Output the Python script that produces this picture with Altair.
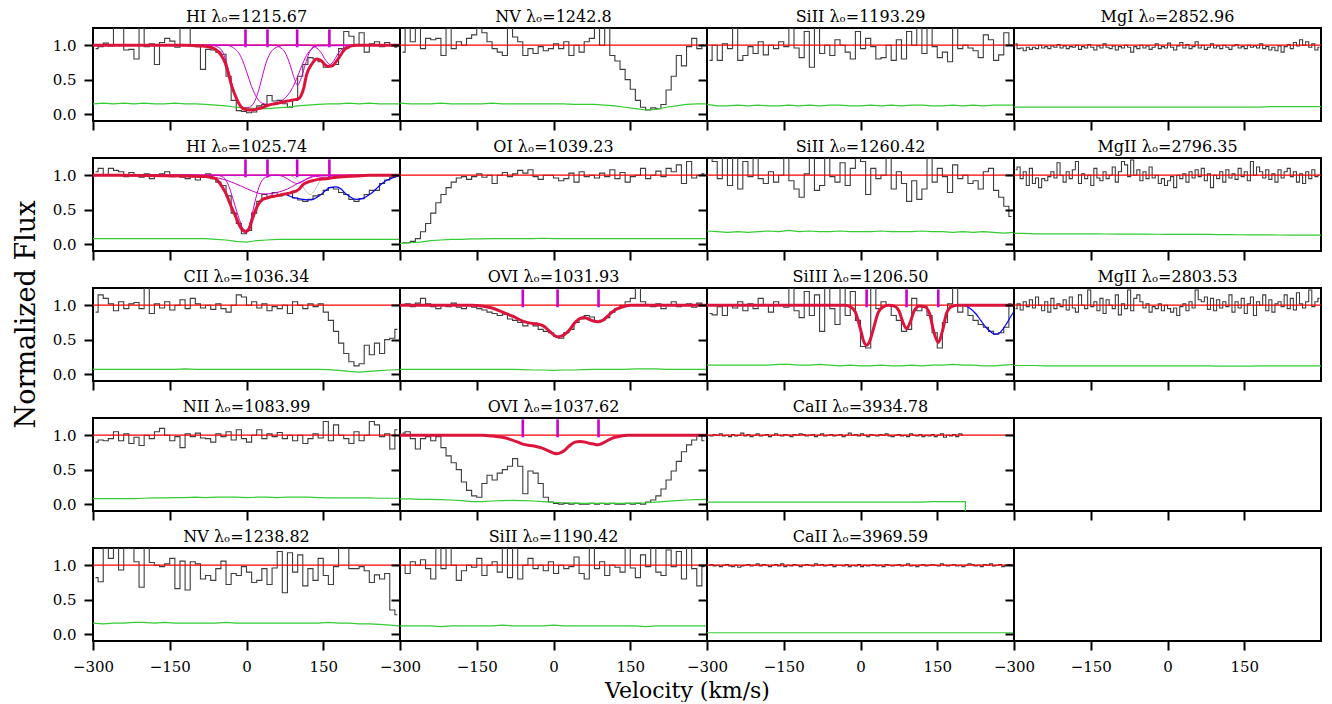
import altair as alt
import pandas as pd

# ---------------- grids ----------------
V_COS0, DV_COS = -295, 10      # COS-like bins (centres)
V_HR0, DV_HR = -297, 6         # high-resolution bins (centres)
ERR_V0, ERR_DV = -300, 20      # error-spectrum samples

# ---------------- flux spectra ----------------
HI1215_FLUX = [0.95, 0.98, 1.03, 0.99, 1.25, 1.25, 0.93, 0.94, 0.80, 1.25,
               0.98, 1.02, 0.72, 1.04, 1.10, 1.06, 0.97, 1.25, 1.25, 1.00,
               0.98, 0.65, 0.94, 0.93, 0.90, 0.87, 0.55, 0.20, 0.05, 0.04,
               0.02, 0.03, 0.12, 0.14, 0.27, 0.19, 0.20, 0.15, 0.10, 0.20,
               0.55, 0.72, 0.82, 0.80, 0.76, 0.68, 0.70, 0.72, 0.95, 1.20,
               1.13, 1.00, 1.18, 0.90, 1.02, 1.05, 0.98, 1.04, 1.00, 0.97]
NV1242_FLUX = [0.90, 1.25, 1.05, 1.25, 0.95, 1.10, 1.08, 1.10, 0.85, 1.25,
               0.95, 1.05, 1.00, 1.10, 1.15, 1.25, 1.18, 1.05, 0.95, 0.90,
               0.85, 1.25, 1.12, 1.05, 0.85, 0.95, 0.88, 0.98, 0.92, 0.95,
               1.02, 0.95, 1.05, 0.85, 1.00, 0.90, 1.05, 1.10, 1.25, 1.00,
               1.25, 0.85, 0.77, 0.65, 0.50, 0.36, 0.20, 0.10, 0.06, 0.09,
               0.08, 0.14, 0.35, 0.55, 0.85, 0.70, 0.98, 1.10, 0.95, 1.00]
SIII1193_FLUX = [0.78, 1.00, 0.78, 1.02, 0.95, 1.25, 0.78, 0.85, 0.98, 0.88,
                 1.05, 0.86, 1.00, 0.95, 1.05, 0.98, 1.25, 0.96, 0.82, 1.20,
                 0.68, 1.25, 0.88, 1.00, 0.85, 1.08, 1.00, 0.90, 0.80, 1.20,
                 0.95, 1.10, 0.98, 0.80, 0.82, 1.00, 0.78, 1.08, 0.80, 1.20,
                 1.00, 1.25, 0.88, 1.25, 0.98, 0.82, 0.90, 0.76, 1.25, 0.95,
                 1.00, 0.96, 0.92, 0.82, 1.15, 1.08, 0.78, 0.86, 1.18, 1.00]
MGI2852_FLUX = [1.02, 0.95, 0.96, 0.92, 0.97, 0.94, 0.97, 0.95, 1.00, 0.96,
                0.98, 0.95, 0.99, 0.97, 1.01, 0.96, 0.99, 0.95, 0.98, 0.97,
                1.00, 0.94, 0.98, 0.96, 1.01, 0.97, 0.93, 0.99, 0.96, 1.02,
                0.97, 0.95, 0.99, 0.93, 0.98, 0.96, 1.00, 0.97, 0.90, 0.98,
                0.95, 1.00, 0.96, 0.99, 0.94, 0.97, 1.02, 0.95, 0.98, 0.96,
                1.03, 0.97, 0.93, 0.99, 1.04, 0.96, 1.01, 0.95, 0.98, 1.05,
                0.96, 1.00, 0.94, 0.97, 1.02, 0.96, 0.99, 0.95, 1.00, 0.97,
                0.94, 0.99, 1.01, 0.96, 0.98, 0.95, 1.00, 0.97, 0.99, 0.96,
                1.02, 0.95, 0.98, 0.93, 0.97, 0.92, 0.99, 0.90, 0.98, 1.01,
                0.95, 1.04, 0.99, 1.08, 1.00, 1.05, 0.97, 1.02, 0.93, 0.97]
HI1025_FLUX = [1.05, 1.10, 1.00, 1.10, 1.07, 1.05, 0.98, 1.04, 1.00, 0.97,
               1.02, 0.95, 1.00, 1.02, 1.05, 0.98, 1.00, 0.97, 0.95, 1.00,
               0.93, 0.97, 1.02, 0.95, 0.90, 0.85, 0.70, 0.45, 0.30, 0.15,
               0.20, 0.45, 0.62, 0.72, 0.68, 0.75, 0.70, 0.72, 0.75, 0.67,
               0.64, 0.62, 0.65, 0.70, 0.72, 0.78, 0.82, 0.80, 0.75, 0.72,
               0.65, 0.62, 0.66, 0.72, 0.78, 0.78, 0.88, 0.93, 0.97, 1.00]
OI1039_FLUX = [0.02, 0.02, 0.04, 0.08, 0.18, 0.30, 0.45, 0.60, 0.72, 0.82,
               0.90, 0.96, 0.98, 0.94, 0.98, 1.02, 0.97, 1.00, 0.88, 1.00,
               1.04, 0.98, 1.02, 1.07, 1.03, 1.08, 0.98, 0.94, 1.00, 1.00,
               0.96, 0.92, 0.95, 1.03, 0.90, 1.05, 0.98, 1.00, 0.96, 1.03,
               0.98, 1.08, 0.95, 1.04, 0.90, 0.98, 1.00, 1.10, 0.95, 1.00,
               1.06, 0.98, 1.10, 1.05, 1.15, 0.88, 1.20, 0.96, 1.00, 1.02]
SIII1260_FLUX = [1.25, 1.20, 0.95, 1.25, 0.85, 1.25, 0.80, 1.20, 0.98, 1.25,
                 0.95, 0.88, 1.05, 0.90, 1.00, 1.25, 0.92, 0.80, 0.68, 1.02,
                 1.25, 0.78, 0.85, 1.25, 0.98, 0.90, 1.18, 0.85, 1.10, 1.25,
                 1.20, 0.72, 1.10, 0.95, 1.00, 1.25, 0.80, 1.05, 0.88, 0.62,
                 0.92, 0.65, 0.80, 1.25, 0.90, 1.10, 0.98, 0.75, 1.15, 0.95,
                 1.00, 0.88, 0.92, 0.80, 1.05, 1.10, 0.78, 0.68, 0.55, 0.40]
MGII2796_FLUX = [1.08, 1.12, 0.95, 1.05, 0.85, 1.10, 0.88, 0.96, 0.82, 0.95,
                 0.92, 0.98, 1.05, 0.96, 1.18, 1.00, 0.90, 1.05, 0.95, 1.08,
                 1.20, 0.88, 1.02, 0.95, 1.00, 0.85, 1.10, 0.96, 0.92, 1.05,
                 0.95, 1.00, 1.12, 0.90, 1.05, 1.20, 1.15, 0.98, 1.22, 1.00,
                 1.08, 0.92, 1.05, 0.95, 1.12, 0.96, 1.00, 0.88, 0.95, 0.85,
                 0.92, 0.98, 0.82, 1.00, 0.95, 1.02, 0.90, 1.05, 0.96, 1.08,
                 0.98, 1.10, 0.92, 1.02, 0.82, 1.00, 0.95, 1.05, 0.90, 1.08,
                 0.96, 1.02, 0.94, 1.10, 0.98, 1.05, 0.92, 1.20, 1.00, 1.12,
                 1.05, 0.96, 1.08, 0.94, 1.02, 0.90, 1.08, 0.96, 1.05, 1.10,
                 0.98, 1.05, 0.90, 1.02, 0.88, 1.05, 0.95, 1.08, 0.98, 1.00]
CII1036_FLUX = [0.90, 1.15, 1.10, 1.02, 0.92, 1.05, 0.95, 1.02, 1.04, 0.95,
                1.25, 0.88, 1.02, 0.96, 1.05, 0.93, 1.00, 1.08, 0.95, 1.10,
                1.02, 0.96, 1.00, 0.94, 1.02, 0.95, 0.90, 1.00, 1.15, 1.12,
                1.00, 1.05, 0.96, 1.02, 0.92, 0.98, 0.95, 1.00, 0.88, 1.05,
                1.00, 0.95, 1.02, 0.98, 1.02, 0.90, 0.78, 0.62, 0.45, 0.30,
                0.18, 0.12, 0.15, 0.42, 0.28, 0.45, 0.30, 0.50, 0.52, 0.65]
OVI1031_FLUX = [1.00, 1.02, 0.98, 1.03, 1.10, 1.02, 0.98, 0.95, 1.00, 0.98,
                1.03, 0.97, 0.95, 1.00, 0.97, 0.95, 0.93, 0.90, 0.88, 0.85,
                0.87, 0.80, 0.78, 0.75, 0.70, 0.75, 0.70, 0.65, 0.62, 0.60,
                0.55, 0.52, 0.60, 0.65, 0.75, 0.80, 0.85, 0.83, 0.76, 0.78,
                0.82, 0.90, 0.95, 1.00, 1.05, 1.10, 1.25, 1.05, 1.00, 0.98,
                1.02, 0.95, 1.00, 1.05, 0.98, 1.00, 1.02, 0.97, 1.03, 1.00]
SIIII1206_FLUX = [0.88, 0.86, 0.98, 0.85, 1.00, 0.96, 1.05, 0.92, 1.02, 0.95,
                  1.10, 1.00, 0.90, 1.05, 1.00, 0.97, 1.25, 0.92, 0.82, 1.20,
                  0.85, 1.15, 0.62, 1.25, 0.95, 0.72, 1.25, 0.85, 1.20, 0.78,
                  0.40, 0.38, 1.25, 0.95, 1.05, 1.00, 0.85, 0.78, 0.62, 0.65,
                  1.10, 0.92, 0.98, 0.85, 0.60, 0.38, 0.75, 1.02, 1.25, 0.90,
                  1.00, 0.85, 0.78, 0.72, 0.68, 0.62, 0.58, 0.60, 0.68, 1.02]
MGII2803_FLUX = [0.95, 1.02, 0.93, 1.05, 0.98, 1.08, 0.96, 1.12, 1.00, 0.92,
                 1.05, 0.90, 1.10, 0.95, 1.02, 0.98, 1.08, 0.93, 1.12, 0.96,
                 0.90, 1.15, 1.00, 0.95, 1.22, 0.98, 1.05, 0.92, 1.10, 0.88,
                 1.08, 1.00, 0.95, 1.15, 0.86, 1.02, 0.95, 1.22, 0.92, 1.10,
                 1.15, 1.05, 0.96, 1.02, 0.90, 0.98, 0.95, 1.02, 0.92, 1.00,
                 0.95, 0.90, 0.96, 0.85, 0.98, 1.02, 0.92, 1.05, 0.96, 1.22,
                 1.08, 1.05, 1.12, 0.94, 1.10, 0.92, 1.08, 0.96, 1.05, 0.98,
                 1.15, 0.90, 1.05, 0.96, 1.10, 0.88, 1.02, 1.12, 0.85, 1.05,
                 1.00, 1.15, 0.92, 1.08, 0.90, 1.02, 1.05, 0.98, 1.15, 0.95,
                 1.10, 0.93, 1.18, 1.02, 0.96, 1.05, 1.22, 0.98, 1.05, 1.10]
NII1083_FLUX = [0.90, 0.93, 0.92, 0.95, 1.05, 0.92, 1.02, 0.88, 0.97, 0.85,
                1.00, 0.95, 1.05, 1.10, 1.00, 0.92, 0.98, 0.82, 1.02, 0.98,
                1.03, 0.96, 0.95, 0.90, 1.02, 0.98, 1.05, 0.93, 1.08, 0.95,
                0.90, 1.00, 1.08, 0.95, 1.02, 0.98, 1.04, 0.95, 1.00, 0.92,
                1.00, 0.88, 0.95, 1.02, 0.96, 1.20, 0.92, 1.15, 1.00, 0.95,
                0.88, 1.05, 0.92, 1.00, 1.20, 1.15, 0.98, 1.02, 0.80, 1.08]
OVI1037_FLUX = [1.03, 1.05, 0.95, 0.80, 0.95, 0.98, 0.92, 0.98, 0.82, 0.70,
                0.60, 0.50, 0.32, 0.20, 0.12, 0.10, 0.30, 0.42, 0.35, 0.45,
                0.50, 0.55, 0.66, 0.55, 0.15, 0.48, 0.45, 0.30, 0.10, 0.03,
                0.01, 0.00, 0.01, 0.00, 0.01, 0.00, 0.00, 0.01, 0.00, 0.01,
                0.00, 0.01, 0.00, 0.00, 0.01, 0.00, 0.01, 0.00, 0.03, 0.06,
                0.12, 0.22, 0.35, 0.48, 0.62, 0.76, 0.86, 0.93, 1.00, 0.92]
CAII3934_FLUX = [1.00, 0.99, 1.01, 1.00, 1.02, 0.99, 1.00, 0.98, 1.01, 0.99,
                 1.00, 1.03, 0.99, 1.01, 0.98, 1.00, 1.02, 0.99, 1.00, 1.01,
                 0.98, 1.00, 1.02, 1.00, 0.99, 1.01, 1.00, 0.98, 1.01, 1.00,
                 1.02, 1.01, 0.99, 1.00, 1.01, 0.98, 1.00, 1.02, 0.99, 1.00,
                 1.01, 0.99, 1.00, 1.01, 0.98, 1.00, 1.03, 1.00, 1.01, 0.99,
                 1.02, 1.00, 0.98, 1.01, 1.00, 0.99, 1.01, 1.00, 1.02, 0.99,
                 0.98, 1.00, 1.01, 0.99, 1.00, 0.98, 1.02, 1.00, 0.99, 1.01,
                 0.98, 1.00, 0.99, 1.01, 0.98, 1.00, 1.02, 0.97, 1.00, 0.99,
                 1.01, 0.98, 1.02, 1.00]
NV1238_FLUX = [0.82, 0.76, 1.25, 1.10, 1.25, 0.93, 1.25, 1.25, 1.05, 0.68,
               1.25, 1.04, 1.00, 0.98, 1.02, 1.10, 0.66, 1.06, 0.64, 1.05,
               1.02, 0.80, 0.85, 0.78, 0.95, 1.06, 0.72, 0.88, 0.85, 0.98,
               0.90, 0.75, 0.78, 0.95, 0.72, 0.96, 1.20, 0.60, 1.18, 0.90,
               1.15, 0.70, 0.95, 0.78, 1.10, 0.85, 0.72, 0.98, 1.25, 1.25,
               0.95, 0.95, 0.98, 0.92, 0.75, 0.86, 0.80, 0.88, 0.35, 0.28]
SIII1190_FLUX = [1.00, 0.88, 1.05, 1.00, 1.08, 0.95, 0.80, 1.25, 0.95, 1.25,
                 1.00, 0.78, 0.92, 1.00, 0.97, 1.10, 0.85, 1.00, 1.05, 0.90,
                 1.25, 0.82, 1.25, 0.80, 1.00, 1.10, 0.95, 1.00, 0.92, 1.05,
                 0.88, 1.00, 0.95, 0.98, 1.12, 0.88, 0.80, 1.25, 0.95, 1.05,
                 0.85, 1.00, 0.97, 0.90, 1.25, 0.96, 0.82, 1.15, 0.98, 1.25,
                 0.90, 0.85, 1.22, 0.98, 1.20, 0.80, 1.25, 0.95, 0.70, 0.98]
CAII3969_FLUX = [1.00, 1.01, 0.99, 1.00, 0.98, 1.00, 1.01, 0.99, 0.98, 1.00,
                 0.97, 0.99, 1.00, 1.01, 0.99, 1.00, 1.02, 0.99, 1.01, 1.00,
                 0.98, 1.00, 1.01, 0.99, 1.02, 0.98, 1.00, 0.99, 1.01, 1.00,
                 0.98, 1.00, 1.01, 1.00, 0.99, 1.02, 1.00, 1.01, 0.99, 1.00,
                 1.01, 0.98, 1.00, 1.00, 0.99, 1.01, 0.98, 1.00, 0.99, 1.01,
                 0.98, 1.00, 0.99, 1.00, 1.01, 0.99, 1.00, 0.98, 1.01, 1.00,
                 0.99, 1.00, 1.01, 0.99, 1.00, 1.02, 0.99, 1.00, 0.98, 1.00,
                 1.01, 0.99, 1.00, 1.01, 1.00, 0.99, 1.02, 1.00, 0.99, 1.00,
                 1.01, 0.99, 1.00, 0.98, 1.00, 1.02, 1.01, 0.99, 1.00, 0.98,
                 1.01, 1.00, 1.02, 0.99, 1.00, 1.01, 0.98, 1.00, 1.01, 1.00]

# ---------------- error spectra (every 20 km/s from -300) ----------------
HI1215_ERR = [0.15, 0.16, 0.15, 0.16, 0.15, 0.16, 0.15, 0.15, 0.16, 0.15, 0.15, 0.14, 0.13, 0.12, 0.10, 0.09,
              0.08, 0.08, 0.09, 0.10, 0.12, 0.13, 0.14, 0.15, 0.15, 0.16, 0.15, 0.16, 0.15, 0.15, 0.15]
NV1242_ERR = [0.16, 0.15, 0.15, 0.15, 0.16, 0.15, 0.15, 0.15, 0.15, 0.16, 0.15, 0.15, 0.15, 0.15, 0.15, 0.15,
              0.15, 0.14, 0.14, 0.14, 0.13, 0.12, 0.10, 0.08, 0.06, 0.07, 0.10, 0.12, 0.14, 0.15, 0.15]
SIII1193_ERR = [0.14, 0.12, 0.12, 0.13, 0.12, 0.13, 0.12, 0.12, 0.13, 0.12, 0.13, 0.12, 0.13, 0.13, 0.12, 0.12,
                0.13, 0.12, 0.13, 0.12, 0.13, 0.13, 0.12, 0.12, 0.13, 0.12, 0.13, 0.12, 0.13, 0.13, 0.13]
MGI2852_ERR = [0.10, 0.10, 0.10, 0.10, 0.10, 0.10, 0.10, 0.10, 0.10, 0.10, 0.10, 0.10, 0.10, 0.10, 0.10, 0.10,
               0.10, 0.10, 0.10, 0.10, 0.10, 0.10, 0.10, 0.10, 0.10, 0.11, 0.11, 0.11, 0.11, 0.11, 0.11]
HI1025_ERR = [0.08, 0.08, 0.08, 0.08, 0.08, 0.08, 0.08, 0.08, 0.08, 0.08, 0.08, 0.08, 0.07, 0.06, 0.04, 0.03,
              0.05, 0.06, 0.07, 0.07, 0.07, 0.07, 0.07, 0.07, 0.07, 0.07, 0.07, 0.07, 0.07, 0.07, 0.07]
OI1039_ERR = [0.01, 0.02, 0.03, 0.05, 0.06, 0.07, 0.07, 0.075, 0.075, 0.08, 0.08, 0.08, 0.08, 0.08, 0.085, 0.08,
              0.08, 0.08, 0.08, 0.08, 0.08, 0.08, 0.08, 0.08, 0.08, 0.08, 0.08, 0.08, 0.08, 0.08, 0.08]
SIII1260_ERR = [0.19, 0.18, 0.17, 0.18, 0.17, 0.18, 0.19, 0.18, 0.20, 0.18, 0.19, 0.18, 0.18, 0.19, 0.18, 0.18,
                0.18, 0.19, 0.18, 0.18, 0.18, 0.19, 0.18, 0.18, 0.17, 0.18, 0.17, 0.18, 0.17, 0.16, 0.17]
MGII2796_ERR = [0.155, 0.155, 0.15, 0.15, 0.15, 0.15, 0.15, 0.15, 0.148, 0.147, 0.146, 0.145, 0.145, 0.144, 0.143,
                0.142, 0.141, 0.14, 0.14, 0.14, 0.138, 0.137, 0.136, 0.135, 0.134, 0.133, 0.132, 0.131, 0.13,
                0.13, 0.13]
CII1036_ERR = [0.07, 0.07, 0.07, 0.07, 0.07, 0.07, 0.07, 0.07, 0.07, 0.075, 0.07, 0.07, 0.07, 0.07, 0.07, 0.07,
               0.07, 0.07, 0.07, 0.07, 0.07, 0.07, 0.07, 0.065, 0.055, 0.04, 0.03, 0.04, 0.05, 0.06, 0.065]
OVI1031_ERR = [0.07, 0.07, 0.07, 0.07, 0.07, 0.07, 0.07, 0.07, 0.07, 0.07, 0.07, 0.07, 0.065, 0.06, 0.06, 0.055,
               0.06, 0.06, 0.065, 0.07, 0.07, 0.07, 0.07, 0.075, 0.075, 0.075, 0.07, 0.07, 0.07, 0.07, 0.07]
SIIII1206_ERR = [0.13, 0.13, 0.13, 0.13, 0.13, 0.13, 0.13, 0.14, 0.14, 0.13, 0.13, 0.14, 0.13, 0.12, 0.13, 0.12,
                 0.12, 0.13, 0.12, 0.12, 0.13, 0.12, 0.13, 0.13, 0.14, 0.13, 0.13, 0.12, 0.12, 0.13, 0.14]
MGII2803_ERR = [0.125, 0.125, 0.125, 0.12, 0.12, 0.12, 0.12, 0.12, 0.12, 0.12, 0.12, 0.12, 0.12, 0.12, 0.12,
                0.12, 0.12, 0.12, 0.12, 0.12, 0.115, 0.115, 0.115, 0.115, 0.12, 0.12, 0.12, 0.12, 0.12, 0.12, 0.12]
NII1083_ERR = [0.08, 0.08, 0.08, 0.08, 0.08, 0.085, 0.09, 0.09, 0.095, 0.095, 0.10, 0.095, 0.10, 0.10, 0.10,
               0.095, 0.10, 0.10, 0.095, 0.10, 0.10, 0.10, 0.095, 0.09, 0.09, 0.09, 0.09, 0.09, 0.085, 0.085, 0.085]
OVI1037_ERR = [0.075, 0.075, 0.07, 0.07, 0.065, 0.06, 0.05, 0.035, 0.035, 0.045, 0.05, 0.055, 0.05, 0.045, 0.035,
               0.025, 0.02, 0.015, 0.01, 0.01, 0.01, 0.01, 0.01, 0.015, 0.02, 0.03, 0.04, 0.05, 0.06, 0.065, 0.07]
CAII3934_ERR = [0.03, 0.03, 0.03, 0.03, 0.03, 0.03, 0.03, 0.03, 0.03, 0.03, 0.03, 0.03, 0.03, 0.03, 0.03, 0.03,
                0.03, 0.03, 0.03, 0.03, 0.03, 0.03, 0.035, 0.035, 0.035, 0.035]
NV1238_ERR = [0.16, 0.15, 0.16, 0.16, 0.17, 0.17, 0.16, 0.17, 0.16, 0.16, 0.16, 0.16, 0.16, 0.17, 0.16, 0.16,
              0.16, 0.16, 0.16, 0.16, 0.16, 0.16, 0.16, 0.17, 0.16, 0.16, 0.15, 0.15, 0.14, 0.13, 0.12]
SIII1190_ERR = [0.12, 0.12, 0.12, 0.12, 0.11, 0.12, 0.12, 0.12, 0.12, 0.12, 0.13, 0.12, 0.12, 0.12, 0.12, 0.13,
                0.12, 0.12, 0.12, 0.12, 0.12, 0.12, 0.12, 0.12, 0.11, 0.12, 0.12, 0.12, 0.12, 0.12, 0.12]
CAII3969_ERR = [0.02, 0.02, 0.02, 0.02, 0.02, 0.02, 0.02, 0.02, 0.02, 0.02, 0.02, 0.02, 0.02, 0.02, 0.02, 0.02,
                0.02, 0.02, 0.02, 0.02, 0.02, 0.02, 0.02, 0.02, 0.02, 0.02, 0.02, 0.02, 0.02, 0.02, 0.02]

# ---------------- model fits (velocity, normalized flux) ----------------
HI1215_FIT_V = [-300, -120, -90, -70, -61, -50, -42, -35, -29, -22, -16, -10, -3, 5, 12, 23, 33, 43, 55, 69, 80,
                88, 95, 101, 106, 112, 117, 122, 127, 132, 137, 142, 147, 153, 160, 167, 173, 179, 186, 192, 199,
                205, 215, 230, 300]
HI1215_FIT_F = [1, 1, 0.99, 0.97, 0.94, 0.86, 0.75, 0.58, 0.41, 0.27, 0.17, 0.10, 0.07, 0.06, 0.06, 0.08, 0.10,
                0.13, 0.15, 0.17, 0.19, 0.20, 0.21, 0.22, 0.26, 0.38, 0.56, 0.66, 0.72, 0.77, 0.80, 0.79, 0.77,
                0.72, 0.69, 0.70, 0.74, 0.80, 0.88, 0.94, 0.97, 0.99, 1, 1, 1]
HI1025_FIT_V = [-300, -200, -120, -80, -60, -53, -45, -38, -33, -26, -20, -13, -7, -1, 5, 9, 14, 19, 25, 32, 40,
                50, 58, 70, 84, 92, 97, 103, 110, 120, 129, 140, 155, 175, 194, 215, 240, 300]
HI1025_FIT_F = [1, 0.995, 0.99, 0.98, 0.95, 0.89, 0.80, 0.70, 0.60, 0.48, 0.38, 0.26, 0.20, 0.18, 0.22, 0.31,
                0.42, 0.52, 0.60, 0.65, 0.67, 0.69, 0.70, 0.72, 0.74, 0.76, 0.77, 0.80, 0.86, 0.90, 0.92, 0.94,
                0.95, 0.97, 0.98, 0.99, 1, 1]
OVI1031_FIT_V = [-300, -160, -140, -120, -100, -80, -60, -45, -33, -20, -6, 2, 8, 15, 22, 30, 40, 52, 60, 68, 78,
                 88, 98, 110, 122, 137, 150, 300]
OVI1031_FIT_F = [1, 1, 0.99, 0.96, 0.90, 0.84, 0.77, 0.74, 0.73, 0.70, 0.61, 0.56, 0.54, 0.55, 0.58, 0.63, 0.73,
                 0.81, 0.82, 0.80, 0.77, 0.76, 0.79, 0.87, 0.94, 0.98, 1, 1]
OVI1037_FIT_V = [-300, -140, -120, -100, -85, -70, -60, -45, -36, -25, -12, 0, 6, 12, 20, 30, 42, 52, 62, 72, 80,
                 86, 92, 100, 110, 120, 132, 146, 300]
OVI1037_FIT_F = [1, 1, 0.99, 0.97, 0.94, 0.90, 0.87, 0.85, 0.84, 0.82, 0.78, 0.74, 0.73, 0.74, 0.77, 0.84, 0.90,
                 0.91, 0.90, 0.88, 0.87, 0.86, 0.87, 0.90, 0.94, 0.97, 0.99, 1, 1]
SIIII1206_FIT_V = [-300, -30, -20, -10, 0, 6, 12, 18, 25, 35, 45, 55, 65, 75, 83, 90, 97, 105, 115, 125, 135,
                   143, 152, 160, 168, 178, 190, 300]
SIIII1206_FIT_F = [1, 1, 0.98, 0.90, 0.65, 0.48, 0.42, 0.48, 0.65, 0.90, 0.98, 1, 0.99, 0.92, 0.75, 0.66, 0.75,
                   0.92, 0.99, 0.98, 0.88, 0.62, 0.46, 0.62, 0.88, 0.98, 1, 1]

# ---------------- individual components ----------------
HI1215_COMP_V = [
    [-300, -70, -55, -45, -38, -29, -20, -12, -3, 6, 14, 22, 30, 38, 46, 54, 62, 75, 300],
    [-300, -40, -25, -10, 0, 10, 20, 30, 43, 55, 70, 85, 95, 100, 108, 115, 125, 140, 300],
    [-300, 55, 65, 75, 85, 92, 100, 108, 115, 122, 130, 140, 300],
    [-300, 120, 135, 145, 155, 163, 171, 181, 192, 205, 300],
]
HI1215_COMP_F = [
    [1, 1, 0.97, 0.88, 0.72, 0.45, 0.22, 0.12, 0.09, 0.10, 0.16, 0.30, 0.52, 0.74, 0.88, 0.95, 0.98, 1, 1],
    [1, 1, 0.96, 0.82, 0.62, 0.40, 0.24, 0.16, 0.14, 0.15, 0.20, 0.32, 0.46, 0.55, 0.70, 0.82, 0.93, 0.99, 1],
    [1, 1, 0.97, 0.90, 0.72, 0.55, 0.42, 0.55, 0.72, 0.88, 0.97, 1, 1],
    [1, 1, 0.97, 0.90, 0.78, 0.72, 0.78, 0.90, 0.97, 1, 1],
]
HI1025_COMP_V = [
    [-300, -60, -45, -35, -25, -15, -8, -2, 4, 10, 16, 24, 32, 42, 55, 300],
    [-300, -100, -70, -40, -10, 15, 30, 43, 60, 80, 100, 120, 140, 300],
    [-300, 60, 75, 88, 99, 110, 123, 140, 300],
    [-300, 125, 145, 162, 180, 200, 300],
]
HI1025_COMP_F = [
    [1, 1, 0.97, 0.85, 0.62, 0.38, 0.24, 0.20, 0.24, 0.40, 0.60, 0.82, 0.94, 0.98, 1, 1],
    [1, 1, 0.98, 0.93, 0.84, 0.76, 0.73, 0.73, 0.75, 0.80, 0.88, 0.95, 0.99, 1],
    [1, 1, 0.97, 0.91, 0.88, 0.91, 0.97, 1, 1],
    [1, 1, 0.97, 0.95, 0.97, 1, 1],
]
HI1025_GRAY_V = [-300, 80, 95, 108, 118, 125, 133, 142, 155, 300]
HI1025_GRAY_F = [1, 1, 0.96, 0.86, 0.75, 0.72, 0.78, 0.90, 0.99, 1]

# ---------------- blended / other-line models (blue) ----------------
HI1025_BLUE_V = [74, 90, 110, 123, 142, 155, 162, 175, 185, 194, 204, 214, 226, 236, 246, 256, 265, 275, 285,
                 298, 310]
HI1025_BLUE_F = [0.73, 0.68, 0.65, 0.64, 0.70, 0.78, 0.82, 0.83, 0.80, 0.73, 0.68, 0.65, 0.66, 0.70, 0.75, 0.82,
                 0.88, 0.93, 0.96, 0.99, 1.0]
SIIII1206_BLUE_V = [195, 205, 215, 225, 235, 245, 255, 262, 270, 278, 286, 294, 302, 310]
SIIII1206_BLUE_F = [1.0, 0.99, 0.95, 0.88, 0.78, 0.68, 0.61, 0.58, 0.59, 0.65, 0.74, 0.84, 0.93, 1.0]

# ---------------- component velocity markers ----------------
HI_TICKS = [-2, 41, 99, 162]
OVI_TICKS = [-60, 8, 88]
SIIII_TICKS = [12, 90, 152]

# ---------------- panel table (row-major, 5 x 4) ----------------
PANELS = [
    dict(title="HI λₒ=1215.67", flux=HI1215_FLUX, hr=False, err=HI1215_ERR,
         fit=(HI1215_FIT_V, HI1215_FIT_F), comps=(HI1215_COMP_V, HI1215_COMP_F), ticks=HI_TICKS),
    dict(title="NV λₒ=1242.8", flux=NV1242_FLUX, hr=False, err=NV1242_ERR),
    dict(title="SiII λₒ=1193.29", flux=SIII1193_FLUX, hr=False, err=SIII1193_ERR),
    dict(title="MgI λₒ=2852.96", flux=MGI2852_FLUX, hr=True, err=MGI2852_ERR),

    dict(title="HI λₒ=1025.74", flux=HI1025_FLUX, hr=False, err=HI1025_ERR,
         fit=(HI1025_FIT_V, HI1025_FIT_F), comps=(HI1025_COMP_V, HI1025_COMP_F),
         gray=(HI1025_GRAY_V, HI1025_GRAY_F), blue=(HI1025_BLUE_V, HI1025_BLUE_F), ticks=HI_TICKS),
    dict(title="OI λₒ=1039.23", flux=OI1039_FLUX, hr=False, err=OI1039_ERR),
    dict(title="SiII λₒ=1260.42", flux=SIII1260_FLUX, hr=False, err=SIII1260_ERR),
    dict(title="MgII λₒ=2796.35", flux=MGII2796_FLUX, hr=True, err=MGII2796_ERR),

    dict(title="CII λₒ=1036.34", flux=CII1036_FLUX, hr=False, err=CII1036_ERR),
    dict(title="OVI λₒ=1031.93", flux=OVI1031_FLUX, hr=False, err=OVI1031_ERR,
         fit=(OVI1031_FIT_V, OVI1031_FIT_F), ticks=OVI_TICKS),
    dict(title="SiIII λₒ=1206.50", flux=SIIII1206_FLUX, hr=False, err=SIIII1206_ERR,
         fit=(SIIII1206_FIT_V, SIIII1206_FIT_F), blue=(SIIII1206_BLUE_V, SIIII1206_BLUE_F), ticks=SIIII_TICKS),
    dict(title="MgII λₒ=2803.53", flux=MGII2803_FLUX, hr=True, err=MGII2803_ERR),

    dict(title="NII λₒ=1083.99", flux=NII1083_FLUX, hr=False, err=NII1083_ERR),
    dict(title="OVI λₒ=1037.62", flux=OVI1037_FLUX, hr=False, err=OVI1037_ERR,
         fit=(OVI1037_FIT_V, OVI1037_FIT_F), ticks=OVI_TICKS),
    dict(title="CaII λₒ=3934.78", flux=CAII3934_FLUX, hr=True, err=CAII3934_ERR, err_drop=True),
    None,

    dict(title="NV λₒ=1238.82", flux=NV1238_FLUX, hr=False, err=NV1238_ERR),
    dict(title="SiII λₒ=1190.42", flux=SIII1190_FLUX, hr=False, err=SIII1190_ERR),
    dict(title="CaII λₒ=3969.59", flux=CAII3969_FLUX, hr=True, err=CAII3969_ERR),
    None,
]

# ---------------- styling ----------------
FONT = "DejaVu Serif"
W, H = 307, 93
XDOM, YDOM = [-300, 300], [-0.1, 1.25]
C_FLUX, C_CONT, C_ERR = "#3d3d3d", "#ff0000", "#33cc33"
C_COMP, C_FIT, C_BLUE, C_GRAY = "#cc00cc", "#dc143c", "#0000ff", "#bdbdbd"
NROWS, NCOLS = 5, 4


def grid_df(vals, v0, dv):
    return pd.DataFrame({"v": [v0 + i * dv for i in range(len(vals))], "f": vals})


def curve_df(vs, fs, g=0):
    return pd.DataFrame({"v": vs, "f": fs, "g": [g] * len(vs)})


def make_panel(spec, r, c):
    xkw = dict(values=[-300, -150, 0, 150], format="d", labels=(r == NROWS - 1), tickSize=9, tickWidth=2,
               tickColor="black", labelPadding=9, labelFlush=False, labelOverlap=False, domain=False,
               grid=False, labelFont=FONT, labelFontSize=15, labelColor="black")
    if r == NROWS - 1 and c == 1:
        xkw.update(title="Velocity (km/s)", titleFont=FONT, titleFontSize=22, titleFontWeight="normal",
                   titleColor="black", titleX=287, titleY=49, titleBaseline="middle")
    else:
        xkw.update(title=None)
    ykw = dict(values=[0, 0.5, 1.0], format=".1f", labels=(c == 0), tickSize=9, tickWidth=2, tickColor="black",
               labelPadding=8, domain=False, grid=False, labelFont=FONT, labelFontSize=15, labelColor="black")
    if r == 1 and c == 0:
        # centred well below this panel, extending downwards only
        ykw.update(title="Normalized Flux", titleFont=FONT, titleFontSize=27, titleFontWeight="normal",
                   titleColor="black", titlePadding=12, titleY=156)
    else:
        ykw.update(title=None)
    X = alt.X("v:Q", scale=alt.Scale(domain=XDOM, nice=False, zero=False), axis=alt.Axis(**xkw))
    Y = alt.Y("f:Q", scale=alt.Scale(domain=YDOM, nice=False, zero=False), axis=alt.Axis(**ykw))

    if spec is None:
        layer = alt.Chart(pd.DataFrame({"v": [0], "f": [1.0]})).mark_point(opacity=0).encode(x=X, y=Y)
        return alt.layer(layer).properties(width=W, height=H)

    layers = []
    v0, dv = (V_HR0, DV_HR) if spec["hr"] else (V_COS0, DV_COS)
    layers.append(alt.Chart(grid_df(spec["flux"], v0, dv)).mark_line(
        interpolate="step", color=C_FLUX, strokeWidth=1.1, clip=True).encode(x=X, y=Y))
    layers.append(alt.Chart(pd.DataFrame({"v": [0], "f": [1.0]})).mark_rule(
        color=C_CONT, strokeWidth=1.3).encode(y=Y))
    err = grid_df(spec["err"], ERR_V0, ERR_DV)
    if spec.get("err_drop"):
        last_v = err["v"].iloc[-1] + 5
        err = pd.concat([err, pd.DataFrame({"v": [last_v, last_v], "f": [err["f"].iloc[-1], -0.2]})],
                        ignore_index=True)
    layers.append(alt.Chart(err).mark_line(color=C_ERR, strokeWidth=1.2, clip=True).encode(x=X, y=Y))
    if "gray" in spec:
        layers.append(alt.Chart(curve_df(*spec["gray"])).mark_line(
            color=C_GRAY, strokeWidth=1, interpolate="monotone", clip=True).encode(x=X, y=Y))
    if "comps" in spec:
        cv, cf = spec["comps"]
        cdf = pd.concat([curve_df(cv[i], cf[i], i) for i in range(len(cv))], ignore_index=True)
        layers.append(alt.Chart(cdf).mark_line(
            color=C_COMP, strokeWidth=1, interpolate="monotone", clip=True).encode(x=X, y=Y, detail="g:N"))
    if "blue" in spec:
        layers.append(alt.Chart(curve_df(*spec["blue"])).mark_line(
            color=C_BLUE, strokeWidth=1.2, interpolate="monotone", clip=True).encode(x=X, y=Y))
    if "fit" in spec:
        layers.append(alt.Chart(curve_df(*spec["fit"])).mark_line(
            color=C_FIT, strokeWidth=3, interpolate="monotone", clip=True).encode(x=X, y=Y))
    if "ticks" in spec:
        tdf = pd.DataFrame({"v": spec["ticks"], "f": [0.97] * len(spec["ticks"]),
                            "f2": [1.23] * len(spec["ticks"])})
        layers.append(alt.Chart(tdf).mark_rule(color=C_COMP, strokeWidth=2.6).encode(x=X, y=Y, y2="f2:Q"))

    return alt.layer(*layers).properties(
        width=W, height=H,
        title=alt.TitleParams(text=spec["title"], font=FONT, fontSize=16, fontWeight="normal",
                              color="black", offset=3, anchor="middle", frame="group"))


panels = [make_panel(PANELS[r * NCOLS + c], r, c) for r in range(NROWS) for c in range(NCOLS)]

chart = alt.concat(*panels, columns=NCOLS, spacing=alt.RowColnumber(row=37, column=0), bounds="flush").properties(
    padding={"left": 3, "top": 0, "right": 0, "bottom": 0}
).configure_view(stroke="black", strokeWidth=2)

chart.save("out.html", embed_options={"renderer": "svg", "actions": False})
